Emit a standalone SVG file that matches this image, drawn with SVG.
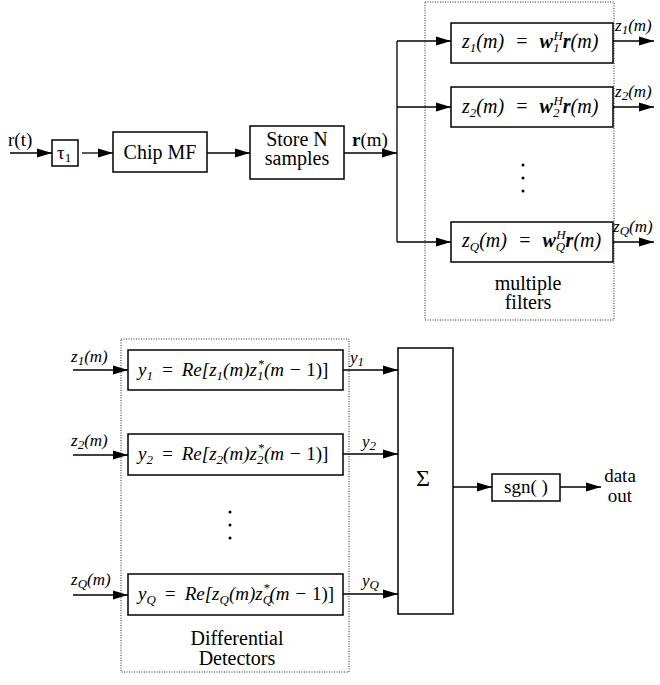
<svg xmlns="http://www.w3.org/2000/svg" width="660" height="685" viewBox="0 0 660 685">
<style>
text{font-family:"Liberation Serif","Times New Roman",serif;fill:#000}
.box{fill:#fff;stroke:#000;stroke-width:1.5}
.dot{fill:none;stroke:#222;stroke-width:1;stroke-dasharray:1 1.5}
.ln{fill:none;stroke:#000;stroke-width:1.3}
.arr{fill:none;stroke:#000;stroke-width:1.3;marker-end:url(#ah)}
.t{font-size:20px}
.m{font-size:20px;font-style:italic}
.d{font-size:19px;font-style:italic}
.lab{font-size:17px;font-style:italic}
.s{font-size:13px}
.bi{font-weight:bold}
.up{font-style:normal}
</style>
<defs>
<marker id="ah" markerUnits="userSpaceOnUse" markerWidth="16" markerHeight="10" refX="15" refY="5" orient="auto">
<path d="M0,0.5 L15,5 L0,9.5 Z" fill="#000"/>
</marker>
</defs>
<rect width="660" height="685" fill="#fff"/>

<g id="connectors">
<line class="arr" x1="10" y1="153" x2="52" y2="153"/>
<line class="arr" x1="82" y1="153" x2="113" y2="153"/>
<line class="arr" x1="207" y1="153" x2="250" y2="153"/>
<line class="arr" x1="344" y1="153" x2="397" y2="153"/>
<line class="ln" x1="397" y1="41" x2="397" y2="242"/>
<line class="arr" x1="397" y1="41" x2="451" y2="41"/>
<line class="arr" x1="397" y1="107" x2="451" y2="107"/>
<line class="arr" x1="397" y1="242" x2="451" y2="242"/>
<line class="arr" x1="613" y1="41" x2="654" y2="41"/>
<line class="arr" x1="613" y1="107" x2="654" y2="107"/>
<line class="arr" x1="613" y1="242" x2="654" y2="242"/>
<line class="arr" x1="73" y1="370" x2="128" y2="370"/>
<line class="arr" x1="73" y1="455" x2="128" y2="455"/>
<line class="arr" x1="73" y1="595" x2="128" y2="595"/>
<line class="arr" x1="343" y1="370" x2="398" y2="370"/>
<line class="arr" x1="343" y1="454" x2="398" y2="454"/>
<line class="arr" x1="343" y1="594" x2="398" y2="594"/>
<line class="arr" x1="453" y1="487" x2="492" y2="487"/>
<line class="arr" x1="560" y1="487" x2="601" y2="487"/>
</g>

<g id="labels">
<text x="8" y="146" font-size="19">r(t)</text>
<text x="352" y="146" font-size="19"><tspan font-weight="bold">r</tspan>(m)</text>
<text x="615" y="31" class="lab">z<tspan class="s" dy="3">1</tspan><tspan dy="-3">(m)</tspan></text>
<text x="615" y="97" class="lab">z<tspan class="s" dy="3">2</tspan><tspan dy="-3">(m)</tspan></text>
<text x="613" y="232" class="lab">z<tspan class="s" dy="3">Q</tspan><tspan dy="-3">(m)</tspan></text>
<text x="71" y="362" class="lab">z<tspan class="s" dy="3">1</tspan><tspan dy="-3">(m)</tspan></text>
<text x="71" y="446" class="lab">z<tspan class="s" dy="3">2</tspan><tspan dy="-3">(m)</tspan></text>
<text x="71" y="585" class="lab">z<tspan class="s" dy="3">Q</tspan><tspan dy="-3">(m)</tspan></text>
<text x="350" y="363" class="lab">y<tspan class="s" dy="3">1</tspan></text>
<text x="362" y="447" class="lab">y<tspan class="s" dy="3">2</tspan></text>
<text x="362" y="586" class="lab">y<tspan class="s" dy="3">Q</tspan></text>
</g>

<g id="tau">
<rect class="box" x="52" y="140" width="26" height="26"/>
<text x="57" y="159" font-size="19">τ<tspan class="s" dy="3">1</tspan></text>
</g>

<g id="chipmf">
<rect class="box" x="113" y="132" width="94" height="40"/>
<text x="160" y="159" class="t" text-anchor="middle">Chip MF</text>
</g>

<g id="store">
<rect class="box" x="250" y="126" width="94" height="53"/>
<text x="297" y="146" class="t" text-anchor="middle">Store N</text>
<text x="297" y="165" class="t" text-anchor="middle">samples</text>
</g>

<g id="multiple-filters">
<rect class="dot" x="425" y="2" width="189" height="318"/>
<text x="528" y="290" class="t" text-anchor="middle">multiple</text>
<text x="528" y="309" class="t" text-anchor="middle">filters</text>
<circle cx="523" cy="165" r="1.5"/>
<circle cx="523" cy="178" r="1.5"/>
<circle cx="523" cy="191" r="1.5"/>
</g>

<g id="filter1">
<rect class="box" x="451" y="23" width="162" height="40"/>
<text x="462" y="48" class="m">z<tspan class="s" dy="4">1</tspan><tspan dy="-4">(m)</tspan><tspan dx="11">=</tspan><tspan dx="11" class="bi">w</tspan><tspan class="s" dy="4">1</tspan><tspan class="s" dx="-6" dy="-12">H</tspan><tspan class="bi" dy="8">r</tspan>(m)</text>
</g>

<g id="filter2">
<rect class="box" x="451" y="87" width="162" height="40"/>
<text x="462" y="113" class="m">z<tspan class="s" dy="4">2</tspan><tspan dy="-4">(m)</tspan><tspan dx="11">=</tspan><tspan dx="11" class="bi">w</tspan><tspan class="s" dy="4">2</tspan><tspan class="s" dx="-6" dy="-12">H</tspan><tspan class="bi" dy="8">r</tspan>(m)</text>
</g>

<g id="filterQ">
<rect class="box" x="451" y="222" width="162" height="40"/>
<text x="462" y="247" class="m">z<tspan class="s" dy="4">Q</tspan><tspan dy="-4">(m)</tspan><tspan dx="11">=</tspan><tspan dx="11" class="bi">w</tspan><tspan class="s" dy="4">Q</tspan><tspan class="s" dx="-9" dy="-12">H</tspan><tspan class="bi" dy="8">r</tspan>(m)</text>
</g>

<g id="differential-detectors">
<rect class="dot" x="121" y="339" width="228" height="333"/>
<text x="237" y="645" class="t" text-anchor="middle">Differential</text>
<text x="237" y="665" class="t" text-anchor="middle">Detectors</text>
<circle cx="230" cy="512" r="1.5"/>
<circle cx="230" cy="525" r="1.5"/>
<circle cx="230" cy="538" r="1.5"/>
</g>

<g id="det1">
<rect class="box" x="128" y="350" width="215" height="40"/>
<text x="138" y="376" class="d">y<tspan class="s" dy="4">1</tspan><tspan dy="-4" dx="8">=</tspan><tspan dx="8">Re[z</tspan><tspan class="s" dy="4">1</tspan><tspan dy="-4">(m)z</tspan><tspan class="s" dy="4">1</tspan><tspan class="s" dx="-6" dy="-12">*</tspan><tspan dy="8">(m − </tspan><tspan class="up">1)]</tspan></text>
</g>

<g id="det2">
<rect class="box" x="128" y="434" width="215" height="41"/>
<text x="138" y="460" class="d">y<tspan class="s" dy="4">2</tspan><tspan dy="-4" dx="8">=</tspan><tspan dx="8">Re[z</tspan><tspan class="s" dy="4">2</tspan><tspan dy="-4">(m)z</tspan><tspan class="s" dy="4">2</tspan><tspan class="s" dx="-6" dy="-12">*</tspan><tspan dy="8">(m − </tspan><tspan class="up">1)]</tspan></text>
</g>

<g id="detQ">
<rect class="box" x="128" y="574" width="215" height="41"/>
<text x="138" y="600" class="d">y<tspan class="s" dy="4">Q</tspan><tspan dy="-4" dx="8">=</tspan><tspan dx="8">Re[z</tspan><tspan class="s" dy="4">Q</tspan><tspan dy="-4">(m)z</tspan><tspan class="s" dy="4">Q</tspan><tspan class="s" dx="-9" dy="-12">*</tspan><tspan dy="8">(m − </tspan><tspan class="up">1)]</tspan></text>
</g>

<g id="sum">
<rect class="box" x="398" y="348" width="55" height="266"/>
<text x="423" y="486" font-size="24" text-anchor="middle">Σ</text>
</g>

<g id="sgn">
<rect class="box" x="492" y="474" width="68" height="27"/>
<text x="526" y="493" font-size="19" text-anchor="middle">sgn( )</text>
</g>

<g id="dataout">
<text x="620" y="482" font-size="19" text-anchor="middle">data</text>
<text x="620" y="502" font-size="19" text-anchor="middle">out</text>
</g>
</svg>
